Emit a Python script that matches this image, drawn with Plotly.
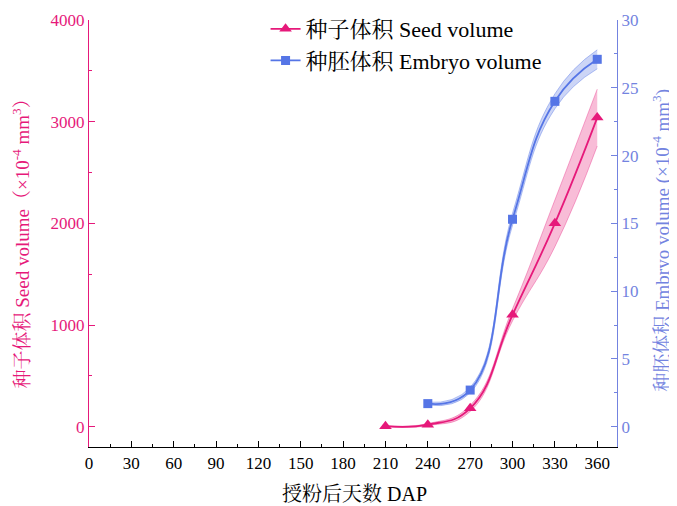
import plotly.graph_objects as go

dap = [210, 240, 270, 300, 330, 360]
seed_mean = [5, 20, 180, 1100, 2000, 3040]
seed_sd = [5, 10, 30, 60, 230, 280]

dap_emb = [240, 270, 300, 330, 360]
emb_mean = [1.7, 2.7, 15.3, 24.0, 27.1]
emb_sd = [0.1, 0.2, 0.45, 0.55, 0.7]

xticks = list(range(0, 361, 30))

PINK = "#E6197A"
PINK_FILL = "rgba(236,80,150,0.38)"
BLUE = "#5575E6"
BLUE_AX = "#7383E0"
BLUE_FILL = "rgba(110,135,230,0.35)"
FONT = "Liberation Serif, Times New Roman, Noto Serif CJK SC, Noto Sans CJK SC"

fig = go.Figure()

# Seed band
seed_up = [m + s for m, s in zip(seed_mean, seed_sd)]
seed_lo = [m - s for m, s in zip(seed_mean, seed_sd)]
fig.add_trace(go.Scatter(x=dap, y=seed_up, mode="lines",
                         line=dict(color="rgba(230,25,122,0.45)", width=0.8, shape="spline", smoothing=1.3),
                         showlegend=False, hoverinfo="skip"))
fig.add_trace(go.Scatter(x=dap, y=seed_lo, mode="lines",
                         line=dict(color="rgba(230,25,122,0.45)", width=0.8, shape="spline", smoothing=1.3),
                         fill="tonexty", fillcolor=PINK_FILL, showlegend=False, hoverinfo="skip"))

# Embryo band
emb_up = [m + s for m, s in zip(emb_mean, emb_sd)]
emb_lo = [m - s for m, s in zip(emb_mean, emb_sd)]
fig.add_trace(go.Scatter(x=dap_emb, y=emb_up, yaxis="y2", mode="lines",
                         line=dict(color="rgba(85,117,230,0.55)", width=0.8, shape="spline", smoothing=1.3),
                         showlegend=False, hoverinfo="skip"))
fig.add_trace(go.Scatter(x=dap_emb, y=emb_lo, yaxis="y2", mode="lines",
                         line=dict(color="rgba(85,117,230,0.55)", width=0.8, shape="spline", smoothing=1.3),
                         fill="tonexty", fillcolor=BLUE_FILL, showlegend=False, hoverinfo="skip"))

# Means
fig.add_trace(go.Scatter(x=dap, y=seed_mean, mode="lines+markers", name="种子体积 Seed volume",
                         line=dict(color=PINK, width=1.8, shape="spline", smoothing=1.3),
                         marker=dict(symbol="triangle-up", size=11, color=PINK)))
fig.add_trace(go.Scatter(x=dap_emb, y=emb_mean, yaxis="y2", mode="lines+markers", name="种胚体积 Embryo volume",
                         line=dict(color=BLUE, width=1.8, shape="spline", smoothing=1.3),
                         marker=dict(symbol="square", size=9, color=BLUE)))

fig.update_layout(
    width=669, height=498,
    margin=dict(l=81, r=60, t=12, b=59, autoexpand=False),
    paper_bgcolor="white", plot_bgcolor="white",
    font=dict(family=FONT, size=17, color="black"),
    legend=dict(xref="container", yref="container", x=0.385, y=1.0, xanchor="left", yanchor="top",
                traceorder="normal",
                font=dict(family=FONT, size=22, color="black"),
                bgcolor="rgba(255,255,255,0)", tracegroupgap=0),
    xaxis=dict(range=[0, 374], tickvals=xticks, ticktext=[str(t) for t in xticks],
               showgrid=False, zeroline=False, showline=True, linecolor="black", linewidth=1.2,
               ticks="inside", ticklen=6, tickcolor="black", automargin=False,
               minor=dict(dtick=15, tick0=0, ticks="inside", ticklen=3, tickcolor="black"),
               tickfont=dict(size=17, color="black")),
    yaxis=dict(range=[-200, 4000], tickvals=[0, 1000, 2000, 3000, 4000],
               showgrid=False, zeroline=False, showline=True, linecolor=PINK, linewidth=1.2,
               ticks="inside", ticklen=6, tickcolor=PINK, automargin=False,
               minor=dict(dtick=500, tick0=0, ticks="inside", ticklen=3, tickcolor=PINK),
               tickfont=dict(size=17, color=PINK)),
    yaxis2=dict(range=[-1.5, 30], tickvals=[0, 5, 10, 15, 20, 25, 30], overlaying="y", side="right",
                showgrid=False, zeroline=False, showline=True, linecolor=BLUE_AX, linewidth=1.2,
                ticks="inside", ticklen=6, tickcolor=BLUE_AX, automargin=False,
                minor=dict(dtick=2.5, tick0=0, ticks="inside", ticklen=3, tickcolor=BLUE_AX),
                tickfont=dict(size=17, color=BLUE_AX)),
    annotations=[
        dict(text="授粉后天数 DAP", xref="paper", yref="paper", x=0.502, y=-0.11,
             xanchor="center", yanchor="middle", showarrow=False,
             font=dict(size=20, color="black")),
        dict(text="种子体积 Seed volume（×10<sup>-4</sup> mm<sup>3</sup>）", xref="paper", yref="paper",
             x=-0.128, y=0.487, xanchor="center", yanchor="middle", textangle=-90, showarrow=False,
             font=dict(size=19, color=PINK)),
        dict(text="种胚体积 Embryo volume (×10<sup>-4</sup> mm<sup>3</sup>)", xref="paper", yref="paper",
             x=1.085, y=0.485, xanchor="center", yanchor="middle", textangle=-90, showarrow=False,
             font=dict(size=19, color=BLUE_AX)),
    ],
)

fig.write_html("out.html")
